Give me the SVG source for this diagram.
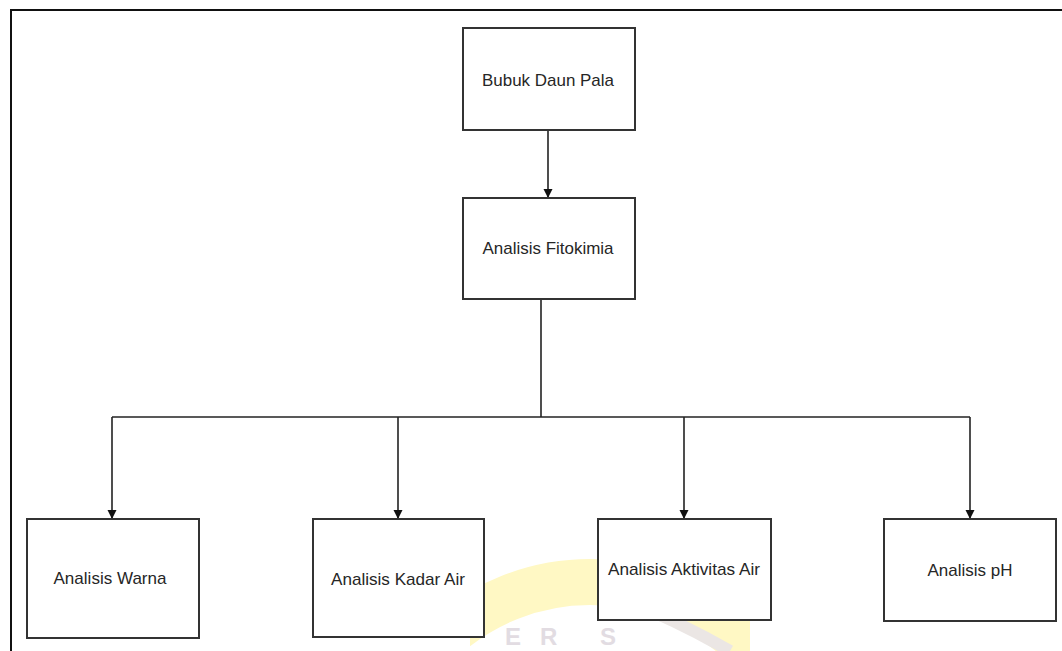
<svg xmlns="http://www.w3.org/2000/svg" width="1062" height="651" viewBox="0 0 1062 651">
  <defs>
    <style>
      .box { fill: #ffffff; stroke: #333333; stroke-width: 2; }
      .lbl { font-family: "Liberation Sans", Arial, sans-serif; font-size: 17px; fill: #262626; text-anchor: middle; }
      .wire { fill: none; stroke: #222222; stroke-width: 1.6; }
      .frame { fill: none; stroke: #111111; stroke-width: 2; }
      .wm-ring { fill: none; stroke: #fff8c4; stroke-width: 46; }
      .wm-band { fill: none; stroke: #ebe6e4; stroke-width: 12; }
      .wm-txt { font-family: "Liberation Sans", Arial, sans-serif; font-size: 24px; font-weight: bold; fill: #e2dce2; }
    </style>
    <marker id="arrow" viewBox="0 0 10 10" refX="10" refY="5" markerWidth="9" markerHeight="10" markerUnits="userSpaceOnUse" orient="auto">
      <path d="M0,0 L10,5 L0,10 z" fill="#111111"/>
    </marker>
    <clipPath id="lowerEdge">
      <rect x="470" y="550" width="280" height="101"/>
    </clipPath>
  </defs>

  <rect width="1062" height="651" fill="#ffffff"/>

  <!-- faint seal in the background -->
  <g id="seal">
    <g clip-path="url(#lowerEdge)">
      <circle class="wm-ring" cx="590" cy="800" r="218"/>
      <path class="wm-band" d="M625,600 Q680,622 730,651"/>
    </g>
    <text class="wm-txt" x="505" y="645">E</text>
    <text class="wm-txt" x="540" y="645">R</text>
    <text class="wm-txt" x="600" y="645">S</text>
  </g>

  <!-- page frame -->
  <path class="frame" d="M11,651 V10 H1062"/>

  <g id="connectors">
    <path class="wire" d="M548,130 V198" marker-end="url(#arrow)"/>
    <path class="wire" d="M541,299 V417"/>
    <path class="wire" d="M112,417 H970"/>
    <path class="wire" d="M112,417 V519" marker-end="url(#arrow)"/>
    <path class="wire" d="M398,417 V519" marker-end="url(#arrow)"/>
    <path class="wire" d="M684,417 V519" marker-end="url(#arrow)"/>
    <path class="wire" d="M970,417 V519" marker-end="url(#arrow)"/>
  </g>

  <g id="bubuk-daun-pala">
    <rect class="box" x="463" y="28" width="172" height="102"/>
    <text class="lbl" x="548" y="86" textLength="132" lengthAdjust="spacingAndGlyphs">Bubuk Daun Pala</text>
  </g>

  <g id="analisis-fitokimia">
    <rect class="box" x="463" y="198" width="172" height="101"/>
    <text class="lbl" x="548" y="254" textLength="131" lengthAdjust="spacingAndGlyphs">Analisis Fitokimia</text>
  </g>

  <g id="analisis-warna">
    <rect class="box" x="27" y="519" width="172" height="119"/>
    <text class="lbl" x="110" y="584" textLength="113" lengthAdjust="spacingAndGlyphs">Analisis Warna</text>
  </g>

  <g id="analisis-kadar-air">
    <rect class="box" x="313" y="519" width="171" height="118"/>
    <text class="lbl" x="398" y="585" textLength="134" lengthAdjust="spacingAndGlyphs">Analisis Kadar Air</text>
  </g>

  <g id="analisis-aktivitas-air">
    <rect class="box" x="598" y="519" width="173" height="101"/>
    <text class="lbl" x="684" y="575" textLength="152" lengthAdjust="spacingAndGlyphs">Analisis Aktivitas Air</text>
  </g>

  <g id="analisis-ph">
    <rect class="box" x="884" y="519" width="172" height="102"/>
    <text class="lbl" x="970" y="576" textLength="85" lengthAdjust="spacingAndGlyphs">Analisis pH</text>
  </g>
</svg>
